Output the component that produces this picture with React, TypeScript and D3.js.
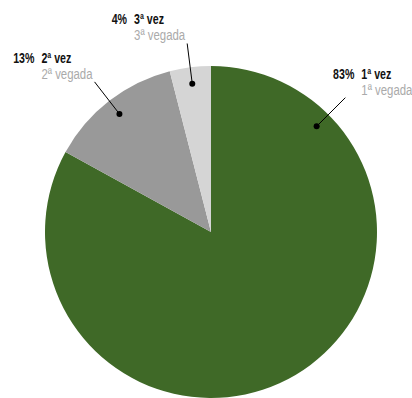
import {useRef, useEffect} from "react";
import * as d3 from "d3";

const categories = ["1ª vez", "2ª vez", "3ª vez"];
const subLabels = ["1ª vegada", "2ª vegada", "3ª vegada"];
const values = [83, 13, 4];
const colors = ["#3f6927", "#999999", "#d5d5d5"];

const W = 412;
const H = 398;
const NARROW = 0.76; // condense Liberation Sans to a narrow face

export default function App() {
  const ref = useRef<SVGSVGElement | null>(null);

  useEffect(() => {
    if (!ref.current) return;
    const svg = d3.select(ref.current);
    svg.selectAll("*").remove();

    const cx = 211, cy = 232, r = 166;
    const g = svg.append("g").attr("transform", `translate(${cx},${cy})`);

    const pie = d3.pie<number>().sort(null).value(d => d)(values);
    const arc = d3.arc<d3.PieArcDatum<number>>().innerRadius(0).outerRadius(r);

    g.selectAll("path.slice")
      .data(pie)
      .join("path")
      .attr("class", "slice")
      .attr("d", arc)
      .attr("fill", (_, i) => colors[i]);

    // label anchor angle: mid-angle, except the big slice (pointer sits top-right)
    const angleOf = (d: d3.PieArcDatum<number>, i: number) =>
      i === 0 ? Math.PI / 4 : (d.startAngle + d.endAngle) / 2;
    const pt = (a: number, rr: number) => [Math.sin(a) * rr, -Math.cos(a) * rr];

    const font = "'Liberation Sans', Arial, sans-serif";

    const addText = (txt: string, bold: boolean, anchor: string) => {
      const wrap = g.append("g");
      const t = wrap.append("text")
        .attr("font-family", font)
        .attr("font-size", bold ? 14 : 15)
        .attr("font-weight", bold ? "bold" : "normal")
        .attr("fill", bold ? "#111" : "#aaaaaa")
        .attr("text-anchor", anchor)
        .text(txt);
      const width = (t.node() as SVGTextElement).getComputedTextLength() * NARROW;
      const place = (x: number, y: number) =>
        wrap.attr("transform", `translate(${x},${y}) scale(${NARROW},1)`);
      return {width, place};
    };

    pie.forEach((d, i) => {
      const a = angleOf(d, i);
      const [x0, y0] = pt(a, r * 0.9);
      const [x1, y1] = pt(a, r + 24);
      g.append("line")
        .attr("x1", x0).attr("y1", y0).attr("x2", x1).attr("y2", y1)
        .attr("stroke", "#000").attr("stroke-width", 1);
      g.append("circle").attr("cx", x0).attr("cy", y0).attr("r", 3).attr("fill", "#000");

      const name = addText(categories[i], true, "start");
      const sub = addText(subLabels[i], false, "start");
      const pct = addText(`${values[i]}%`, true, "end");

      const colX = x1 >= 0 ? x1 + 16 : x1 - 2 - sub.width;
      name.place(colX, y1 - 19);
      sub.place(colX, y1 - 3);
      pct.place(colX - 7, y1 - 19);
    });
  }, []);

  return (
    <svg ref={ref} width={W} height={H}
      style={{position: "absolute", left: 0, top: 0, background: "#fff"}} />
  );
}
